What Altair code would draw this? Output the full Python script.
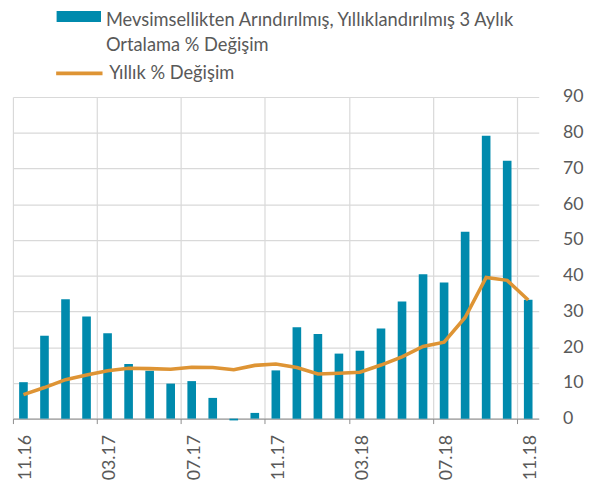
import altair as alt
import pandas as pd

months = ["11.16","12.16","01.17","02.17","03.17","04.17","05.17","06.17","07.17","08.17",
          "09.17","10.17","11.17","12.17","01.18","02.18","03.18","04.18","05.18","06.18",
          "07.18","08.18","09.18","10.18","11.18"]
bar_values = [10.2,23.2,33.4,28.6,23.9,15.3,13.4,9.8,10.5,5.8,-0.5,1.6,13.5,25.6,23.7,18.2,
              19.0,25.2,32.8,40.4,38.1,52.3,79.2,72.2,33.3]
line_values = [6.7,8.7,10.9,12.2,13.4,14.1,14.0,13.8,14.4,14.3,13.7,14.9,15.3,14.3,12.5,12.7,
               13.0,15.0,17.3,20.2,21.4,28.3,39.5,38.7,33.2]
tick_labels = ["11.16","03.17","07.17","11.17","03.18","07.18","11.18"]
y_ticks = [0,10,20,30,40,50,60,70,80,90]
bar_name_lines = ["Mevsimsellikten Arındırılmış, Yıllıklandırılmış 3 Aylık", "Ortalama % Değişim"]
bar_name = " ".join(bar_name_lines)
line_name = "Yıllık % Değişim"

TEAL = "#008aad"
ORANGE = "#de9434"
FONT = "Lato"
TXT = "#595959"
LEG_FS = 18.5
AX_FS = 18

df = pd.DataFrame({"month": months, "bar": bar_values, "line": line_values,
                   "bs": [bar_name]*len(months), "ls": [line_name]*len(months)})

W, H = 533, 326

x_enc = alt.X("month:O", sort=months, title=None,
              scale=alt.Scale(paddingInner=0, paddingOuter=0),
              axis=alt.Axis(values=tick_labels, bandPosition=0, labelOffset=3,
                            labelAngle=270, labelAlign="right", labelBaseline="middle",
                            labelPadding=11, labelFontSize=AX_FS, labelFont=FONT, labelColor=TXT,
                            tickSize=5, tickColor="#8c8c8c", domainColor="#8c8c8c",
                            grid=True, gridColor="#d9d9d9", gridWidth=1.2))

y_scale = alt.Scale(domain=[0, 90], nice=False)
y_axis = alt.Axis(orient="right", values=y_ticks, domain=False, ticks=False, tickSize=0,
                  labelPadding=24, labelFontSize=AX_FS, labelFont=FONT, labelColor=TXT,
                  grid=True, gridColor="#d9d9d9", gridWidth=1.2, title=None)

bar_r = 45 / 4.4
line_r = 47 / 4.4

bars = alt.Chart(df).mark_bar(width={"band": 0.41}).encode(
    x=x_enc,
    y=alt.Y("bar:Q", scale=y_scale, axis=y_axis),
    fill=alt.Fill("bs:N", scale=alt.Scale(domain=[bar_name], range=[TEAL]),
                  legend=alt.Legend(orient="none", legendX=79.5 - 13 - bar_r, legendY=-87.5,
                                    title=bar_name_lines, titleOrient="right",
                                    titleAnchor="start", titleBaseline="top",
                                    titleLineHeight=26, titleFont=FONT, titleFontSize=LEG_FS,
                                    titleFontWeight="normal", titleColor=TXT,
                                    titlePadding=5, titleLimit=600,
                                    symbolType="M-2.2,-1H2.2V0.1H-2.2Z",
                                    symbolSize=(2 * bar_r) ** 2,
                                    symbolStrokeWidth=0, labelOffset=0, labelExpr="''",
                                    labelFontSize=1)),
)

line = alt.Chart(df).mark_line(strokeWidth=3.6).encode(
    x=x_enc,
    y=alt.Y("line:Q", scale=y_scale, axis=y_axis),
    stroke=alt.Stroke("ls:N", scale=alt.Scale(domain=[line_name], range=[ORANGE]),
                      legend=alt.Legend(orient="none", legendX=78.5 - 13 - line_r, legendY=-36.5,
                                        title=None,
                                        symbolType="M-2.2,0H2.2", symbolSize=(2 * line_r) ** 2,
                                        symbolStrokeWidth=3.6,
                                        labelOffset=107 - 78.5 + line_r - 2 * line_r,
                                        labelLimit=600,
                                        labelFont=FONT, labelFontSize=LEG_FS, labelColor=TXT)),
)

chart = alt.layer(bars, line).properties(
    width=W, height=H,
    autosize=alt.AutoSizeParams(type="none"),
    padding={"left": 5, "top": 87, "right": 54, "bottom": 62},
).configure_view(stroke=None)

chart.save("out.html", embed_options={"renderer": "svg", "actions": False})
